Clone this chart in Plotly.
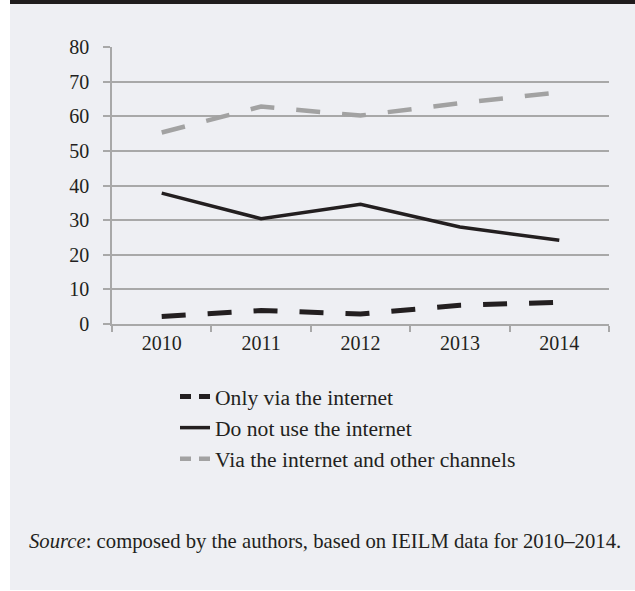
import plotly.graph_objects as go

years = ["2010", "2011", "2012", "2013", "2014"]
only_internet = [2.2, 3.9, 2.9, 5.4, 6.3]
no_internet = [37.8, 30.4, 34.6, 28.0, 24.2]
internet_and_other = [55.3, 62.8, 60.2, 63.8, 66.9]

names = ["Only via the internet", "Do not use the internet", "Via the internet and other channels"]
y_ticks = [0, 10, 20, 30, 40, 50, 60, 70, 80]

BLACK = "#231f20"
GREY_LINE = "#a2a2a2"
GRID = "#a8a8a8"
BG = "#eeeff3"
FONT = "Liberation Serif"

series = [only_internet, no_internet, internet_and_other]
styles = [
    dict(color=BLACK, width=5, dash="24px,22px"),
    dict(color=BLACK, width=3.5, dash="solid"),
    dict(color=GREY_LINE, width=4.5, dash="24px,22px"),
]
legend_styles = [
    dict(color=BLACK, width=5, dash="11px,8px"),
    dict(color=BLACK, width=3.5, dash="solid"),
    dict(color=GREY_LINE, width=4.5, dash="11px,8px"),
]

fig = go.Figure()
for i, (vals, nm) in enumerate(zip(series, names)):
    fig.add_trace(go.Scatter(x=years, y=vals, mode="lines", name=nm,
                             line=styles[i], showlegend=False,
                             legendgroup=f"g{i}", hoverinfo="x+y+name"))
for i, nm in enumerate(names):
    fig.add_trace(go.Scatter(x=[None], y=[None], mode="lines", name=nm,
                             line=legend_styles[i], showlegend=True,
                             legendgroup=f"g{i}"))

L, R, T, B = 112, 26, 47, 267
W, H = 635, 591
pw = W - L - R
ph = H - T - B

def px_x(p):
    return (p - L) / pw

def px_y(p):
    return (H - B - p) / ph

shapes = [
    dict(type="rect", xref="paper", yref="paper", layer="below",
         x0=px_x(10), x1=px_x(660), y0=px_y(590), y1=px_y(4),
         fillcolor=BG, line=dict(width=0)),
    dict(type="rect", xref="paper", yref="paper", layer="below",
         x0=px_x(10), x1=px_x(660), y0=px_y(4), y1=px_y(-20),
         fillcolor="#1f1c1d", line=dict(width=0)),
]

fig.update_layout(
    width=W, height=H,
    margin=dict(l=L, r=R, t=T, b=B, pad=0),
    paper_bgcolor="white",
    plot_bgcolor="rgba(0,0,0,0)",
    font=dict(family=FONT, size=20, color=BLACK),
    shapes=shapes,
    showlegend=True,
    legend=dict(x=px_x(175), y=px_y(376), xanchor="left", yanchor="top",
                orientation="v", traceorder="grouped", tracegroupgap=0,
                font=dict(family=FONT, size=21.6, color=BLACK),
                bgcolor="rgba(0,0,0,0)", itemwidth=30),
    annotations=[dict(
        xref="paper", yref="paper", x=px_x(27), y=px_y(541),
        xanchor="left", yanchor="middle", showarrow=False,
        text="<i>Source</i>: composed by the authors, based on IEILM data for 2010\u20132014.",
        font=dict(family=FONT, size=20.7, color=BLACK))],
)

fig.update_xaxes(
    type="category", range=[-0.5, 4.5], showline=True, linecolor=GRID, linewidth=1.5,
    ticks="outside", tickson="boundaries", ticklen=6, tickcolor=GRID, tickwidth=1.5,
    showgrid=False, zeroline=False, tickfont=dict(family=FONT, size=20, color=BLACK),
)
fig.update_yaxes(
    range=[0, 80], tickvals=y_ticks, showline=True, linecolor=GRID, linewidth=1.5,
    ticks="outside", ticklen=7, tickcolor=GRID, tickwidth=1.5,
    showgrid=True, gridcolor=GRID, gridwidth=1.5, zeroline=False,
    ticklabelstandoff=10, tickfont=dict(family=FONT, size=20, color=BLACK),
)

fig.write_html(
    "out.html",
    config={"displayModeBar": False},
    post_script="document.body.style.margin='0';document.body.style.overflow='hidden';",
)
